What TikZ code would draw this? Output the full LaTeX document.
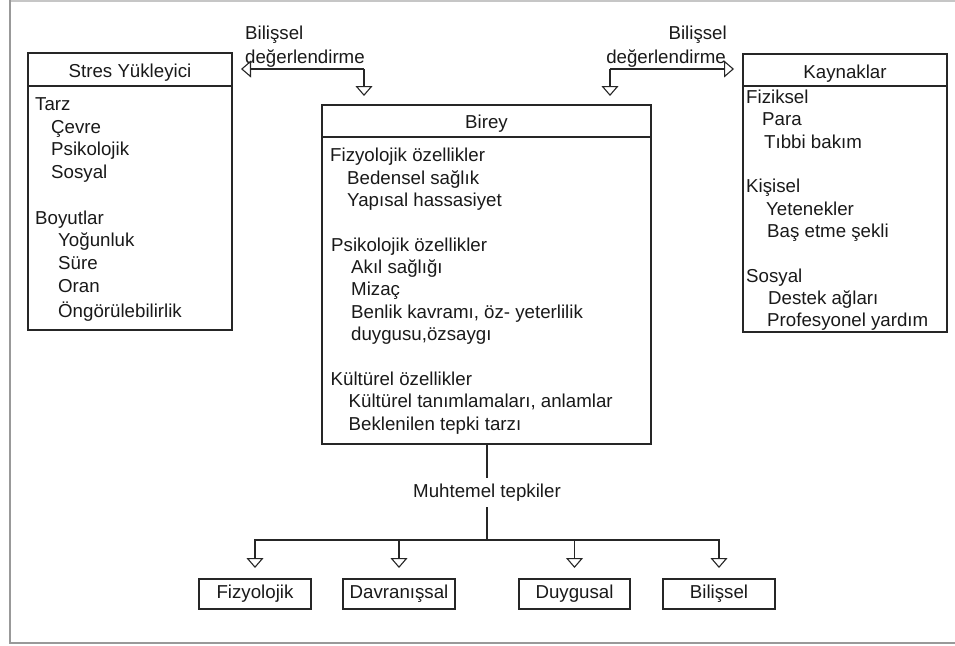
\documentclass[tikz,border=0pt]{standalone}
\usepackage{fontspec}
\setmainfont{Liberation Sans}
\usetikzlibrary{arrows.meta}
\begin{document}
\begin{tikzpicture}[x=1pt,y=-1pt,
  box/.style={draw=black!85, line width=1.1pt, inner sep=0pt, outer sep=0pt},
  ln/.style={draw=black!85, line width=1.1pt},
  txt/.style={inner sep=0pt, anchor=base west, font=\fontsize{18.7}{22}\selectfont, text=black!90},
  ctxt/.style={inner sep=0pt, anchor=base, font=\fontsize{18.7}{22}\selectfont, text=black!90},
  arr/.style={draw=black!85, line width=1.1pt, -{Triangle[length=10pt, width=17pt, fill=white]}},
  small/.style={box, minimum width=112pt, minimum height=30pt, font=\fontsize{18.7}{22}\selectfont, text=black!90}
]
\useasboundingbox (0,0) rectangle (955,645);
% frame
\draw[gray!45, line width=1.5pt] (10,1) -- (955,1);
\draw[gray!80, line width=1.5pt] (10,0) -- (10,643) -- (955,643);

% boxes
\node[box, minimum width=204pt, minimum height=277pt] (stres) at (130,191.5) {};
\draw[ln] ([yshift=-33pt]stres.north west) -- ([yshift=-33pt]stres.north east);
\node[ctxt] (stresh) at (130,77) {Stres Yükleyici};

\node[box, minimum width=329pt, minimum height=339pt] (birey) at (486.5,274.5) {};
\draw[ln] ([yshift=-32pt]birey.north west) -- ([yshift=-32pt]birey.north east);
\node[ctxt] (bireyh) at (486.5,128.5) {Birey};

\node[box, minimum width=204pt, minimum height=278pt] (kay) at (845,193) {};
\draw[ln] ([yshift=-32pt]kay.north west) -- ([yshift=-32pt]kay.north east);
\node[ctxt] (kayh) at (845,78) {Kaynaklar};

% Stres text
\foreach \t/\x/\k [count=\i] in {Tarz/35/0, Çevre/51/1, Psikolojik/51/2, Sosyal/51/3,
  Boyutlar/35/5, Yoğunluk/58/6, Süre/58/7, Oran/58/8, Öngörülebilirlik/58/9.1}
  \node[txt] (st\i) at (\x,110.3+\k*22.75) {\t};

% Birey text
\foreach \t/\x/\k [count=\i] in {{Fizyolojik özellikler}/330/0, {Bedensel sağlık}/347/1, {Yapısal hassasiyet}/347/2,
  {Psikolojik özellikler}/331/4, {Akıl sağlığı}/351/5, {Mizaç}/351/6, {Benlik kavramı, öz- yeterlilik}/351/7, {duygusu,özsaygı}/351/8,
  {Kültürel özellikler}/330.5/10, {Kültürel tanımlamaları, anlamlar}/348.5/11, {Beklenilen tepki tarzı}/348.5/12}
  \node[txt] (bt\i) at (\x,161.7+\k*22.36) {\t};

% Kaynaklar text
\foreach \t/\x/\k [count=\i] in {Fiziksel/746/0, Para/762/1, {Tıbbi bakım}/764/2,
  Kişisel/746/4, Yetenekler/766/5, {Baş etme şekli}/767/6,
  Sosyal/746/8, {Destek ağları}/768/9, {Profesyonel yardım}/767/10}
  \node[txt] (kt\i) at (\x,103.5+\k*22.34) {\t};

% top labels
\node[txt] (la1) at (245,39) {Bilişsel};
\node[txt] (la2) at (245,63) {değerlendirme};
\node[txt, anchor=base east] (ra1) at (727,39) {Bilişsel};
\node[txt, anchor=base east] (ra2) at (726,63) {değerlendirme};

% top connectors
\coordinate (j1) at (364,69);
\coordinate (j2) at (610,69);
\draw[arr, shorten >=9pt] (j1) -- (j1 -| stres.east);
\draw[arr, shorten >=9pt] (j1) -- (j1 |- birey.north);
\draw[arr, shorten >=9pt] (j2) -- (j2 -| kay.west);
\draw[arr, shorten >=9pt] (j2) -- (j2 |- birey.north);

% bottom
\node[ctxt, anchor=center, inner sep=0pt, minimum height=29pt] (muh) at (487,492.5) {Muhtemel tepkiler};
\coordinate (hub) at (487,540);
\draw[ln] (birey.south -| hub) -- (muh.north -| hub);
\draw[ln] (muh.south -| hub) -- (hub);

\node[small] (fiz) at (255,594) {Fizyolojik};
\node[small] (dav) at (399,594) {Davranışsal};
\node[small, minimum width=111pt] (duy) at (574.5,594) {Duygusal};
\node[small] (bil) at (719,594) {Bilişsel};

\foreach \n in {fiz,dav,duy,bil}
  \draw[arr, shorten >=11pt] (hub) -| (\n.north);
\end{tikzpicture}
\end{document}
